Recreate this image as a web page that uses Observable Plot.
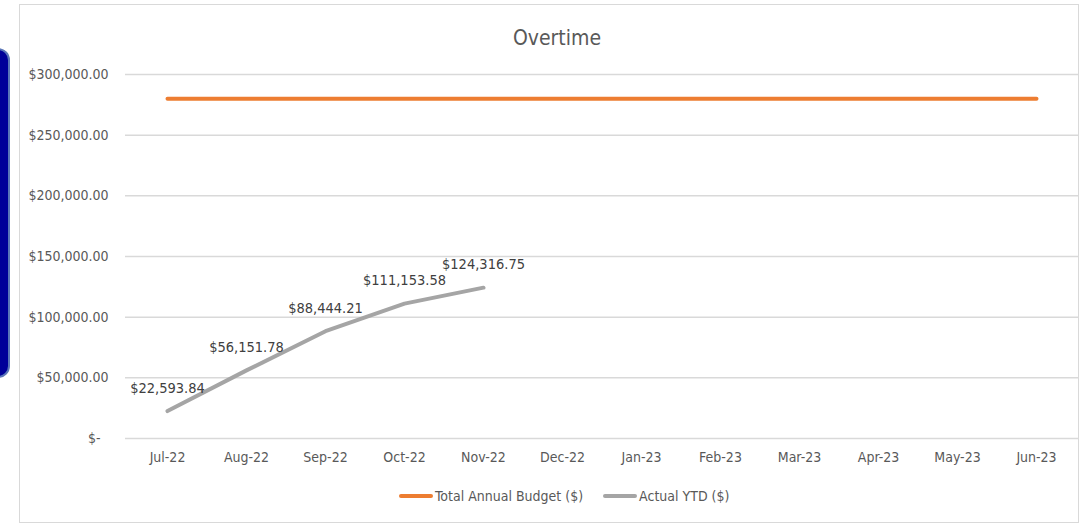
<!DOCTYPE html>
<html>
<head>
<meta charset="utf-8">
<script src="https://cdn.jsdelivr.net/npm/d3@7"></script>
<script src="https://cdn.jsdelivr.net/npm/@observablehq/plot@0.6"></script>
<style>
  html, body { margin: 0; padding: 0; background: #ffffff; }
  body { width: 1081px; height: 526px; position: relative; overflow: hidden;
         font-family: "Liberation Sans Narrow", "DejaVu Sans Condensed", "Roboto", sans-serif; color: #595959; }
  #side { position: absolute; left: -14px; top: 48px; width: 20px; height: 326px;
          background: #000099; border: 2px solid #5b77b8; border-radius: 12px; }
  #frame { position: absolute; left: 19px; top: 4px; width: 1060px; height: 519px;
           border: 1px solid #d9d9d9; box-sizing: border-box; }
  #title { position: absolute; left: 0; width: 1114px; top: 26px; text-align: center;
           font-size: 21px; color: #595959; }
  #chart { position: absolute; left: 0; top: 0; }
  #legend { position: absolute; top: 488px; left: 399px; display: flex; align-items: center;
            font-size: 14px; color: #595959; white-space: nowrap; }
  .sw { display: inline-block; width: 34px; height: 4px; border-radius: 2px; margin-right: 2px; }
  .item { display: flex; align-items: center; margin-right: 20px; }
</style>
</head>
<body>
<div id="side"></div>
<div id="frame"></div>
<div id="chart"></div>
<div id="title">Overtime</div>
<div id="legend">
  <div class="item"><span class="sw" style="background:#ed7d31"></span><span>Total Annual Budget ($)</span></div>
  <div class="item"><span class="sw" style="background:#a5a5a5"></span><span>Actual YTD ($)</span></div>
</div>
<script>
const months = ["Jul-22","Aug-22","Sep-22","Oct-22","Nov-22","Dec-22","Jan-23","Feb-23","Mar-23","Apr-23","May-23","Jun-23"];
const budget = [280000,280000,280000,280000,280000,280000,280000,280000,280000,280000,280000,280000];
const actualMonths = ["Jul-22","Aug-22","Sep-22","Oct-22","Nov-22"];
const actual = [22593.84, 56151.78, 88444.21, 111153.58, 124316.75];
const yTicks = [0, 50000, 100000, 150000, 200000, 250000, 300000];

const budgetData = months.map((m, i) => ({month: m, value: budget[i]}));
const actualData = actualMonths.map((m, i) => ({month: m, value: actual[i]}));
const money = d3.format(",.2f");
const fmtTick = d => d === 0 ? "$-\u2007" : "$" + money(d);

const chart = Plot.plot({
  width: 1081,
  height: 480,
  marginTop: 74,
  marginBottom: 42,
  marginLeft: 125,
  marginRight: 3,
  style: {fontFamily: "'Liberation Sans Narrow', 'DejaVu Sans Condensed', sans-serif", fontSize: "14px", color: "#595959", background: "transparent"},
  x: {type: "point", domain: months, padding: 0.5, label: null},
  y: {domain: [0, 300000], label: null},
  marks: [
    Plot.ruleY(yTicks, {stroke: "#d9d9d9", strokeWidth: 1.5}),
    Plot.axisY({ticks: yTicks, tickFormat: fmtTick, tickSize: 0, tickPadding: 17, fontSize: 14}),
    Plot.axisX({tickSize: 0, tickPadding: 14, fontSize: 14}),
    Plot.line(budgetData, {x: "month", y: "value", stroke: "#ed7d31", strokeWidth: 4, strokeLinecap: "round"}),
    Plot.line(actualData, {x: "month", y: "value", stroke: "#a5a5a5", strokeWidth: 4, strokeLinecap: "round"}),
    Plot.text(actualData, {x: "month", y: "value", text: d => "$" + money(d.value), dy: -23, fill: "#404040", fontSize: 14.5})
  ]
});
document.getElementById("chart").appendChild(chart);
</script>
</body>
</html>
